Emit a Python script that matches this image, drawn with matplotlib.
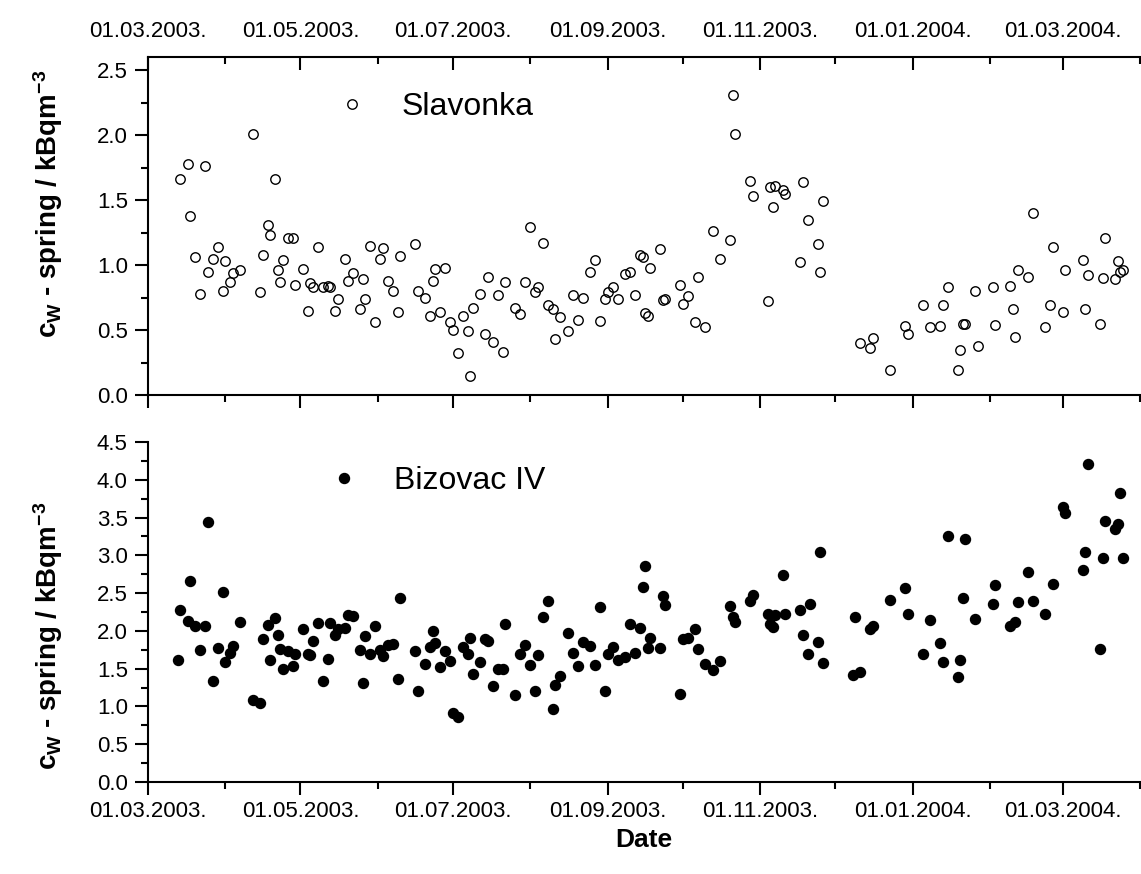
import numpy as np
import pandas as pd
import matplotlib
matplotlib.use("Agg")
import matplotlib.pyplot as plt
import matplotlib.dates as mdates
from matplotlib.ticker import MultipleLocator, FormatStrFormatter

plt.rcParams['font.family'] = ['Liberation Sans', 'DejaVu Sans']
plt.rcParams['mathtext.fontset'] = 'custom'
plt.rcParams['mathtext.rm'] = 'Liberation Sans:bold'
plt.rcParams['mathtext.bf'] = 'Liberation Sans:bold'
plt.rcParams['mathtext.default'] = 'bf'

start = pd.Timestamp('2003-03-01')

# Slavonka: days after 01.03.2003 and activity (kBq/m3)
slav_day = [13, 16, 17, 19, 21, 23, 24, 26, 28, 30, 31, 33, 34, 37, 42, 45, 46, 48, 49, 51,
            52, 53, 54, 56, 58, 59, 62, 64, 65, 66, 68, 70, 72, 73, 75, 76, 79, 80, 82, 85,
            86, 87, 89, 91, 93, 94, 96, 98, 100, 101, 107, 108, 111, 113, 114, 115, 117, 119, 121, 122,
            124, 126, 128, 129, 130, 133, 135, 136, 138, 140, 142, 143, 147, 149, 151, 153, 155, 156, 158, 160,
            162, 163, 165, 168, 170, 172, 174, 177, 179, 181, 183, 184, 186, 188, 191, 193, 195, 197, 198, 199,
            200, 201, 205, 206, 207, 213, 214, 216, 219, 220, 223, 226, 229, 233, 234, 235, 241, 242, 248, 249,
            250, 251, 254, 255, 261, 262, 264, 268, 269, 270, 285, 289, 290, 297, 303, 304, 310, 313, 317, 318,
            320, 324, 325, 326, 327, 331, 332, 338, 339, 345, 346, 347, 348, 352, 354, 359, 361, 362, 366, 367,
            374, 375, 376, 381, 382, 383, 387, 388, 389, 390]
slav_val = [1.66, 1.78, 1.38, 1.06, 0.78, 1.76, 0.95, 1.05, 1.14, 0.80, 1.03, 0.87, 0.94, 0.96, 2.01, 0.79, 1.08, 1.31, 1.23, 1.66,
            0.96, 0.87, 1.04, 1.21, 1.21, 0.85, 0.97, 0.65, 0.86, 0.83, 1.14, 0.83, 0.84, 0.83, 0.65, 0.74, 1.05, 0.88, 0.94, 0.66,
            0.89, 0.74, 1.15, 0.56, 1.05, 1.13, 0.88, 0.80, 0.64, 1.07, 1.16, 0.80, 0.75, 0.61, 0.88, 0.97, 0.64, 0.98, 0.56, 0.50,
            0.32, 0.61, 0.49, 0.15, 0.67, 0.78, 0.47, 0.91, 0.41, 0.77, 0.33, 0.87, 0.67, 0.62, 0.87, 1.29, 0.79, 0.83, 1.17, 0.69,
            0.66, 0.43, 0.60, 0.49, 0.77, 0.58, 0.75, 0.95, 1.04, 0.57, 0.74, 0.79, 0.83, 0.74, 0.93, 0.95, 0.77, 1.08, 1.06, 0.63,
            0.61, 0.98, 1.12, 0.73, 0.74, 0.85, 0.70, 0.76, 0.56, 0.91, 0.52, 1.26, 1.05, 1.19, 2.31, 2.01, 1.65, 1.53, 0.72, 1.60,
            1.45, 1.61, 1.58, 1.55, 1.02, 1.64, 1.35, 1.16, 0.95, 1.49, 0.40, 0.36, 0.44, 0.19, 0.53, 0.47, 0.69, 0.52, 0.53, 0.69,
            0.83, 0.19, 0.35, 0.55, 0.55, 0.80, 0.38, 0.83, 0.54, 0.84, 0.66, 0.45, 0.96, 0.91, 1.40, 0.52, 0.69, 1.14, 0.64, 0.96,
            1.04, 0.66, 0.92, 0.55, 0.90, 1.21, 0.89, 1.03, 0.95, 0.96]

# Bizovac IV
biz_day = [12, 13, 16, 17, 19, 21, 23, 24, 26, 28, 30, 31, 33, 34, 37, 42, 45, 46, 48, 49,
           51, 52, 53, 54, 56, 58, 59, 62, 64, 65, 66, 68, 70, 72, 73, 75, 76, 79, 80, 82,
           85, 86, 87, 89, 91, 93, 94, 96, 98, 100, 101, 107, 108, 111, 113, 114, 115, 117, 119, 121,
           122, 124, 126, 128, 129, 130, 133, 135, 136, 138, 140, 142, 143, 147, 149, 151, 153, 155, 156, 158,
           160, 162, 163, 165, 168, 170, 172, 174, 177, 179, 181, 183, 184, 186, 188, 191, 193, 195, 197, 198,
           199, 200, 201, 205, 206, 207, 213, 214, 216, 219, 220, 223, 226, 229, 233, 234, 235, 241, 242, 248,
           249, 250, 251, 254, 255, 261, 262, 264, 265, 268, 269, 270, 282, 283, 285, 289, 290, 297, 303, 304,
           310, 313, 317, 318, 320, 324, 325, 326, 327, 331, 338, 339, 345, 347, 348, 352, 354, 359, 362, 366,
           367, 374, 375, 376, 381, 382, 383, 387, 388, 389, 390]
biz_val = [1.61, 2.27, 2.13, 2.66, 2.07, 1.75, 2.07, 3.44, 1.34, 1.77, 2.51, 1.59, 1.71, 1.80, 2.12, 1.08, 1.05, 1.89, 2.08, 1.61,
           2.17, 1.95, 1.76, 1.49, 1.73, 1.54, 1.69, 2.02, 1.70, 1.68, 1.87, 2.10, 1.34, 1.63, 2.11, 1.94, 2.02, 2.04, 2.21, 2.20,
           1.75, 1.31, 1.93, 1.70, 2.06, 1.75, 1.67, 1.81, 1.82, 1.36, 2.43, 1.73, 1.20, 1.56, 1.79, 2.00, 1.84, 1.52, 1.74, 1.60,
           0.91, 0.86, 1.79, 1.69, 1.91, 1.43, 1.59, 1.89, 1.86, 1.27, 1.50, 1.50, 2.09, 1.15, 1.69, 1.81, 1.55, 1.20, 1.68, 2.18,
           2.40, 0.97, 1.28, 1.40, 1.97, 1.71, 1.54, 1.85, 1.80, 1.55, 2.31, 1.20, 1.69, 1.79, 1.62, 1.65, 2.09, 1.71, 2.04, 2.58,
           2.86, 1.78, 1.91, 1.77, 2.46, 2.34, 1.17, 1.89, 1.90, 2.03, 1.76, 1.56, 1.48, 1.60, 2.33, 2.18, 2.12, 2.39, 2.47, 2.23,
           2.09, 2.05, 2.21, 2.74, 2.23, 2.27, 1.94, 1.70, 2.35, 1.85, 3.04, 1.58, 1.41, 2.18, 1.45, 2.03, 2.06, 2.41, 2.57, 2.22,
           1.70, 2.14, 1.84, 1.59, 3.25, 1.39, 1.61, 2.44, 3.22, 2.16, 2.36, 2.61, 2.06, 2.12, 2.38, 2.78, 2.39, 2.22, 2.62, 3.64,
           3.56, 2.81, 3.04, 4.21, 1.76, 2.96, 3.46, 3.35, 3.42, 3.83, 2.96]

slav_dates = start + pd.to_timedelta(slav_day, unit='D')
biz_dates = start + pd.to_timedelta(biz_day, unit='D')

x_min = mdates.date2num(pd.Timestamp('2003-03-01'))
x_max = mdates.date2num(pd.Timestamp('2004-04-01'))

W, H = 1141, 874
fig = plt.figure(figsize=(W / 100, H / 100), dpi=100)
L, R = 148, 1140
ax1 = fig.add_axes([L / W, (H - 395) / H, (R - L) / W, 338 / H])
ax2 = fig.add_axes([L / W, (H - 782) / H, (R - L) / W, 340 / H])

ylab = r'c$_{W}$ - spring / kBqm$^{-3}$'
tick_fs = 16

def style_x(ax):
    ax.set_xlim(x_min, x_max)
    ax.xaxis.set_major_locator(mdates.MonthLocator(bymonth=[1, 3, 5, 7, 9, 11]))
    ax.xaxis.set_minor_locator(mdates.MonthLocator())
    ax.xaxis.set_major_formatter(mdates.DateFormatter('%d.%m.%Y.'))

def style_y(ax, top):
    ax.set_ylim(0, top)
    ax.yaxis.set_major_locator(MultipleLocator(0.5))
    ax.yaxis.set_minor_locator(MultipleLocator(0.25))
    ax.yaxis.set_major_formatter(FormatStrFormatter('%.1f'))
    ax.tick_params(axis='y', which='both', direction='out', width=1.5, labelsize=tick_fs, pad=5)
    ax.tick_params(axis='y', which='major', length=9.5)
    ax.tick_params(axis='y', which='minor', length=5)
    ax.set_ylabel(ylab, fontsize=20, fontweight='bold')

# top panel
ax1.plot(slav_dates, slav_val, 'o', ls='none', mfc='none', mec='black', mew=1.0, ms=6.8,
         label='Slavonka', clip_on=False)
style_x(ax1)
ax1.tick_params(axis='x', which='both', direction='out', width=1.5, labelbottom=False, bottom=True, top=False)
ax1.tick_params(axis='x', which='major', length=9.5)
ax1.tick_params(axis='x', which='minor', length=5)
style_y(ax1, 2.6)
ax1.yaxis.set_label_coords(-0.084, 0.565)
for s in ['right', 'top']:
    ax1.spines[s].set_visible(False)
for s in ['left', 'bottom']:
    ax1.spines[s].set_linewidth(1.5)

axt = ax1.twiny()
style_x(axt)
axt.tick_params(axis='x', which='both', direction='in', width=1.5, labelsize=tick_fs, pad=11,
                top=True, labeltop=True, bottom=False, labelbottom=False)
axt.tick_params(axis='x', which='major', length=9.5)
axt.tick_params(axis='x', which='minor', length=5)
for s in ['left', 'right', 'bottom']:
    axt.spines[s].set_visible(False)
axt.spines['top'].set_linewidth(1.5)

ax1.legend(loc='center left', bbox_to_anchor=(0.1895, 0.852), frameon=False, fontsize=23,
           handlelength=1.0, handletextpad=1.05, borderpad=0, borderaxespad=0, numpoints=1)

# bottom panel
ax2.plot(biz_dates, biz_val, 'o', ls='none', color='black', ms=7.2, label='Bizovac IV')
style_x(ax2)
ax2.tick_params(axis='x', which='both', direction='out', width=1.5, labelsize=tick_fs, pad=4)
ax2.tick_params(axis='x', which='major', length=9.5)
ax2.tick_params(axis='x', which='minor', length=5)
style_y(ax2, 4.5)
ax2.yaxis.set_label_coords(-0.084, 0.43)
for s in ['right', 'top']:
    ax2.spines[s].set_visible(False)
for s in ['left', 'bottom']:
    ax2.spines[s].set_linewidth(1.5)
ax2.legend(loc='center left', bbox_to_anchor=(0.1815, 0.885), frameon=False, fontsize=23,
           handlelength=1.0, handletextpad=1.05, borderpad=0, borderaxespad=0, numpoints=1)

fig.text(644 / W, 1 - 840 / H, 'Date', ha='center', va='center', fontsize=19, fontweight='bold')

fig.savefig('out.png', dpi=100)
